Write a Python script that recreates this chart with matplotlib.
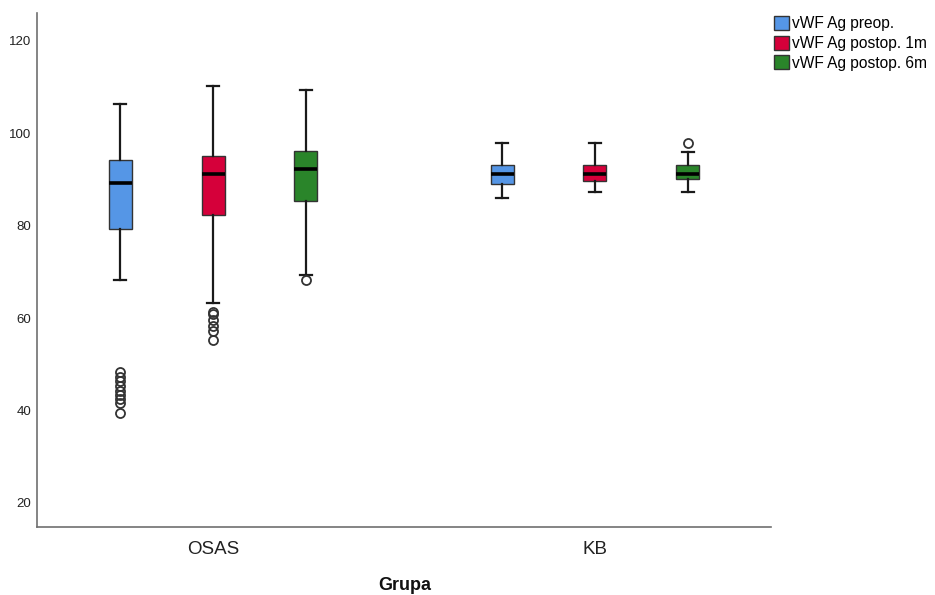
import numpy as np
import matplotlib.pyplot as plt
from matplotlib.patches import Patch

plt.rcParams["font.family"] = ["Liberation Sans", "DejaVu Sans"]

groups = ["OSAS", "KB"]
series = ["vWF Ag preop.", "vWF Ag postop. 1m", "vWF Ag postop. 6m"]
colors = ["#5596E6", "#D5003A", "#2A852A"]

# per group, per series: (whisker low, Q1, median, Q3, whisker high)
osas_stats = [
    (68.2, 79.2, 89.2, 94.2, 106.3),
    (63.2, 82.4, 91.1, 95.0, 110.2),
    (69.3, 85.3, 92.2, 96.1, 109.3),
]
kb_stats = [
    (86.0, 89.1, 91.1, 93.1, 97.9),
    (87.2, 89.7, 91.1, 93.2, 97.9),
    (87.2, 90.0, 91.1, 93.1, 96.0),
]
osas_outliers = [
    [48.3, 47.3, 46.3, 45.3, 44.3, 43.3, 42.4, 41.6, 39.4],
    [61.4, 60.9, 59.6, 58.3, 57.2, 55.3],
    [68.2],
]
kb_outliers = [[], [], [97.9]]

group_stats = [osas_stats, kb_stats]
group_outliers = [osas_outliers, kb_outliers]
offsets = [-0.243, 0.0, 0.243]

fig = plt.figure(figsize=(9.35, 5.95), dpi=100)
ax = fig.add_axes([37 / 935, 1 - 527 / 595, (771 - 37) / 935, (527 - 13) / 595])

for g, (stats_list, out_list) in enumerate(zip(group_stats, group_outliers)):
    for s, (st, fl) in enumerate(zip(stats_list, out_list)):
        lo, q1, med, q3, hi = st
        d = dict(whislo=lo, q1=q1, med=med, q3=q3, whishi=hi, fliers=fl)
        ax.bxp(
            [d], positions=[g + offsets[s]], widths=0.06, capwidths=0.032,
            patch_artist=True, showfliers=True,
            boxprops=dict(facecolor=colors[s], edgecolor="#333333", linewidth=1.0),
            medianprops=dict(color="black", linewidth=2.6),
            whiskerprops=dict(color="#1a1a1a", linewidth=1.6),
            capprops=dict(color="#1a1a1a", linewidth=1.6),
            flierprops=dict(marker="o", markerfacecolor="none", markeredgecolor="#333333",
                            markersize=6.5, markeredgewidth=1.3),
        )

ax.set_xlim(-0.461, 1.461)
ax.set_ylim(14.8, 126.0)
ax.set_xticks([0, 1])
ax.set_xticklabels(groups, fontsize=13.5, color="#222222")
ax.set_yticks([20, 40, 60, 80, 100, 120])
ax.set_yticklabels(["20", "40", "60", "80", "100", "120"], fontsize=9.5, color="#222222")
ax.tick_params(axis="both", length=0)
ax.tick_params(axis="x", pad=10)
ax.tick_params(axis="y", pad=4)
for side in ["top", "right"]:
    ax.spines[side].set_visible(False)
for side in ["left", "bottom"]:
    ax.spines[side].set_color("#707070")
    ax.spines[side].set_linewidth(1.2)

fig.text(405 / 935, 1 - 585 / 595, "Grupa", fontsize=13, fontweight="bold",
         ha="center", va="center", color="#111111")

handles = [Patch(facecolor=c, edgecolor="#333333", linewidth=1.0) for c in colors]
fig.legend(handles, series, loc="upper left", bbox_to_anchor=(774 / 935, 1 - 16 / 595),
           frameon=False, fontsize=11.2, handlelength=0.95, handleheight=1.0,
           handletextpad=0.2, labelspacing=0.28, borderpad=0, borderaxespad=0)

fig.savefig("out.png", dpi=100)
